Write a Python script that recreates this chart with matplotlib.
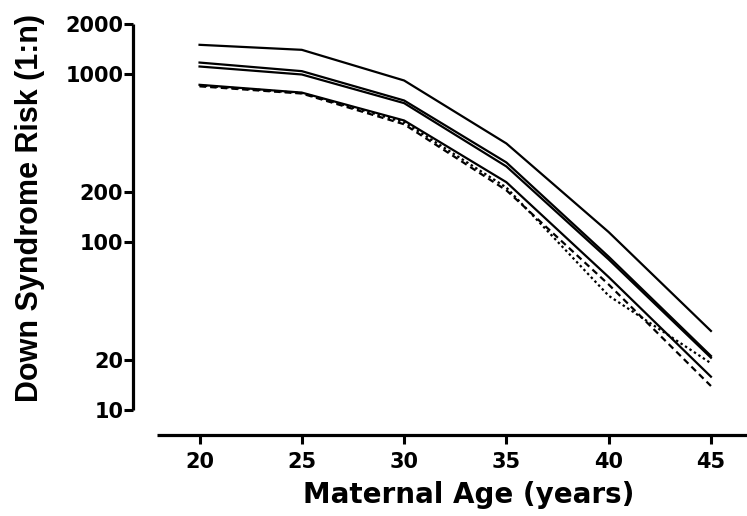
import matplotlib
matplotlib.use("Agg")
import matplotlib.pyplot as plt

ages = [20, 25, 30, 35, 40, 45]
risk_top = [1503, 1403, 921, 388, 115, 29.6]
risk_pair_a = [1178, 1047, 700, 299, 82, 21]
risk_pair_b = [1116, 1000, 675, 283, 79, 20.5]
risk_low_solid = [868, 780, 532, 228, 62, 15.8]
risk_dashed = [850, 770, 505, 204, 56, 13.9]
risk_dotted = [860, 775, 520, 212, 48, 19]

yticks = [10, 20, 100, 200, 1000, 2000]
ytick_labels = ["10", "20", "100", "200", "1000", "2000"]
xticks = [20, 25, 30, 35, 40, 45]

W, H = 747, 516
fig = plt.figure(figsize=(W / 100, H / 100), dpi=100)
ax = fig.add_axes([157 / W, (H - 410) / H, (752 - 157) / W, (410 - 24) / H])

lw = 1.6
ax.plot(ages, risk_top, color="black", lw=lw)
ax.plot(ages, risk_pair_a, color="black", lw=lw)
ax.plot(ages, risk_pair_b, color="black", lw=lw)
ax.plot(ages, risk_low_solid, color="black", lw=lw)
ax.plot(ages, risk_dashed, color="black", lw=lw, linestyle=(0, (2.9, 1.9)))
ax.plot(ages, risk_dotted, color="black", lw=lw, linestyle=(0, (1.1, 1.3)))

ax.set_yscale("log")
ax.set_ylim(10, 2000)
ax.set_xlim(17.92, 17.92 + (752 - 157) / 20.456)
ax.set_yticks(yticks)
ax.set_yticklabels(ytick_labels)
ax.yaxis.set_minor_locator(matplotlib.ticker.NullLocator())
ax.set_xticks(xticks)
ax.set_xticklabels([str(a) for a in xticks])

for s in ["top", "right"]:
    ax.spines[s].set_visible(False)
ax.spines["left"].set_position(("outward", 24 * 0.72))
ax.spines["bottom"].set_position(("outward", 25 * 0.72))
ax.spines["left"].set_bounds(10, 2000)
for s in ["left", "bottom"]:
    ax.spines[s].set_linewidth(2.3)
    ax.spines[s].set_capstyle("butt")

ax.tick_params(axis="both", which="major", length=6.5, width=2.2, color="black")
ax.tick_params(axis="y", pad=0.5)
ax.tick_params(axis="x", pad=6)
for lab in ax.get_xticklabels() + ax.get_yticklabels():
    lab.set_fontfamily("DejaVu Sans")
    lab.set_fontweight("bold")
    lab.set_fontsize(15)

fig.text(30 / W, 1 - 208 / H, "Down Syndrome Risk (1:n)", rotation=90,
         ha="center", va="center", fontsize=22, fontweight="bold",
         family=["Liberation Sans", "DejaVu Sans"])
fig.text(469 / W, 1 - 495 / H, "Maternal Age (years)",
         ha="center", va="center", fontsize=20, fontweight="bold",
         family=["DejaVu Sans"])

fig.savefig("out.png", dpi=100)
